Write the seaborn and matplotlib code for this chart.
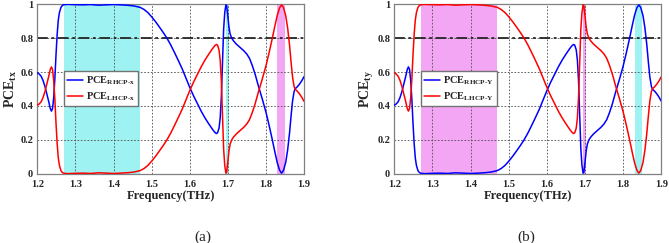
import numpy as np
import pandas as pd
import matplotlib
matplotlib.use("Agg")
import matplotlib.pyplot as plt
from matplotlib.ticker import FormatStrFormatter, FuncFormatter
import seaborn as sns

# 주파수 (THz)
freq = [1.200, 1.205, 1.210, 1.215, 1.220, 1.225, 1.230, 1.234, 1.237, 1.240,
        1.243, 1.246, 1.249, 1.252, 1.255, 1.258, 1.262, 1.266, 1.270, 1.280,
        1.300, 1.320, 1.340, 1.360, 1.380, 1.400, 1.420, 1.440, 1.455, 1.470,
        1.480, 1.490, 1.500, 1.510, 1.520, 1.530, 1.540, 1.550, 1.560, 1.570,
        1.580, 1.590, 1.600, 1.610, 1.620, 1.630, 1.640, 1.650, 1.660, 1.666,
        1.670, 1.673, 1.677, 1.680, 1.683, 1.686, 1.689, 1.692, 1.695, 1.697,
        1.700, 1.703, 1.706, 1.710, 1.715, 1.722, 1.732, 1.742, 1.750, 1.757,
        1.764, 1.772, 1.780, 1.790, 1.800, 1.808, 1.816, 1.824, 1.830, 1.836,
        1.841, 1.846, 1.852, 1.857, 1.862, 1.866, 1.870, 1.874, 1.877, 1.882,
        1.888, 1.894, 1.900]

rhcp_x = [0.595, 0.588, 0.575, 0.550, 0.515, 0.470, 0.425, 0.385, 0.370, 0.385,
          0.450, 0.560, 0.700, 0.820, 0.905, 0.950, 0.980, 0.992, 0.996, 0.998,
          0.996, 0.995, 0.997, 0.993, 0.995, 0.997, 0.995, 0.992, 0.988, 0.980,
          0.968, 0.950, 0.925, 0.897, 0.866, 0.834, 0.800, 0.760, 0.715, 0.668,
          0.620, 0.565, 0.510, 0.460, 0.415, 0.370, 0.330, 0.295, 0.262, 0.245,
          0.238, 0.242, 0.270, 0.330, 0.450, 0.650, 0.850, 0.950, 0.995, 0.990,
          0.930, 0.865, 0.825, 0.800, 0.783, 0.765, 0.745, 0.725, 0.705, 0.680,
          0.640, 0.585, 0.520, 0.445, 0.365, 0.290, 0.210, 0.125, 0.065, 0.022,
          0.005, 0.020, 0.068, 0.140, 0.240, 0.340, 0.430, 0.485, 0.502, 0.512,
          0.528, 0.548, 0.572]

lhcp_x = [0.405, 0.412, 0.425, 0.450, 0.485, 0.530, 0.575, 0.615, 0.630, 0.615,
          0.550, 0.440, 0.300, 0.180, 0.095, 0.050, 0.020, 0.008, 0.004, 0.002,
          0.004, 0.005, 0.003, 0.007, 0.005, 0.003, 0.005, 0.008, 0.012, 0.020,
          0.032, 0.050, 0.075, 0.103, 0.134, 0.166, 0.200, 0.240, 0.285, 0.332,
          0.380, 0.435, 0.490, 0.540, 0.585, 0.630, 0.670, 0.705, 0.738, 0.755,
          0.762, 0.758, 0.730, 0.670, 0.550, 0.350, 0.150, 0.050, 0.005, 0.010,
          0.070, 0.135, 0.175, 0.200, 0.217, 0.235, 0.255, 0.275, 0.295, 0.320,
          0.360, 0.415, 0.480, 0.555, 0.635, 0.710, 0.790, 0.875, 0.935, 0.978,
          0.995, 0.980, 0.932, 0.860, 0.760, 0.660, 0.570, 0.515, 0.498, 0.488,
          0.472, 0.452, 0.428]

# y편광 입사 : 그림에서 x편광과 곡선이 서로 바뀐 모양
rhcp_y = lhcp_x
lhcp_y = rhcp_x

# 음영 구간 (THz)
bands_a = [(1.27, 1.47, "cyan"), (1.695, 1.703, "cyan"), (1.83, 1.85, "magenta")]
bands_b = [(1.27, 1.47, "magenta"), (1.695, 1.703, "magenta"), (1.83, 1.85, "cyan")]
fill = {"cyan": "#9ef2f2", "magenta": "#f3a6f3"}

sns.set_style("white")
plt.rcParams["font.family"] = ["Liberation Serif", "DejaVu Serif"]
plt.rcParams["font.weight"] = "bold"
plt.rcParams["mathtext.fontset"] = "custom"
plt.rcParams["mathtext.rm"] = "Liberation Serif:bold"
plt.rcParams["mathtext.it"] = "Liberation Serif:bold"
plt.rcParams["mathtext.bf"] = "Liberation Serif:bold"
plt.rcParams["mathtext.default"] = "rm"

fig = plt.figure(figsize=(6.69, 2.43), dpi=100)
ax1 = fig.add_axes([0.0558, 0.284, 0.3986, 0.6995])
ax2 = fig.add_axes([0.5894, 0.284, 0.3991, 0.6995])


def draw(ax, r, l, bands, sub, ylab):
    df = pd.DataFrame({"f": freq, "r": r, "l": l})
    for a, b, c in bands:
        ax.axvspan(a, b, color=fill[c], lw=0, zorder=0.1)
    sns.lineplot(x="f", y="r", data=df, color="#0000ff", lw=1.1, ax=ax,
                 label=r"PCE$_{RHCP\text{-}%s}$" % sub, zorder=3)
    sns.lineplot(x="f", y="l", data=df, color="#ff0000", lw=1.1, ax=ax,
                 label=r"PCE$_{LHCP\text{-}%s}$" % sub, zorder=3)
    ax.axhline(0.8, color="0.15", lw=1.3, ls=(0, (6, 2, 1.5, 2)), zorder=2)
    ax.set_xlim(1.2, 1.9)
    ax.set_ylim(0, 1)
    ax.set_xticks(np.arange(1.2, 1.91, 0.1))
    ax.set_yticks(np.arange(0, 1.01, 0.2))
    ax.xaxis.set_major_formatter(FormatStrFormatter("%.1f"))
    ax.yaxis.set_major_formatter(FuncFormatter(lambda v, p: "%g" % round(v, 1)))
    ax.set_axisbelow(True)
    ax.grid(True, color="0.3", lw=0.6, ls=(0, (2, 2)))
    ax.tick_params(labelsize=7.5, length=0)
    ax.tick_params(axis="x", pad=4)
    ax.tick_params(axis="y", pad=3)
    for s in ax.spines.values():
        s.set_color("0.5")
        s.set_linewidth(0.9)
    ax.set_xlabel("Frequency(THz)", fontsize=9, fontweight="bold", labelpad=1)
    ax.set_ylabel(ylab, fontsize=10, fontweight="bold", labelpad=1)
    ax.legend(loc="lower left", bbox_to_anchor=(0.1, 0.4), fontsize=7.5,
              frameon=True, fancybox=False, edgecolor="0.45", framealpha=1,
              handlelength=1.5, handletextpad=0.3, borderpad=0.3,
              labelspacing=0.35, borderaxespad=0)


draw(ax1, rhcp_x, lhcp_x, bands_a, "x", r"PCE$_{tx}$")
draw(ax2, rhcp_y, lhcp_y, bands_b, "Y", r"PCE$_{ty}$")

fig.text(203 / 669, 1 - 237 / 243, "(a)", ha="center", va="center",
         fontsize=11, fontweight="normal")
fig.text(526 / 669, 1 - 237 / 243, "(b)", ha="center", va="center",
         fontsize=11, fontweight="normal")

fig.savefig("out.png", dpi=100)
